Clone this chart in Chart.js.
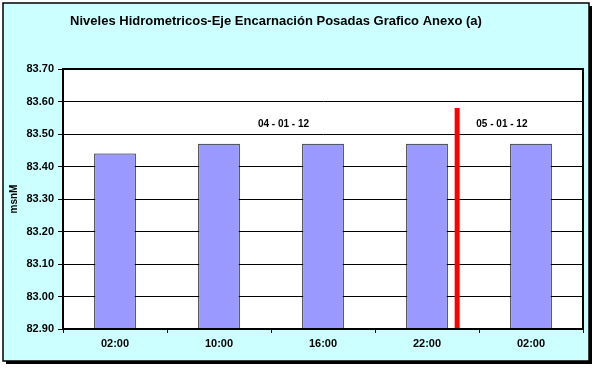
<!DOCTYPE html>
<html>
<head>
<meta charset="utf-8">
<script src="https://cdn.jsdelivr.net/npm/chart.js@4"></script>
<style>
  html, body { margin: 0; padding: 0; background: #ffffff; }
  #wrap { width: 595px; height: 368px; }
</style>
</head>
<body>
<div id="wrap"><canvas id="chart" width="595" height="368"></canvas></div>
<script>
const categories = ['02:00', '10:00', '16:00', '22:00', '02:00'];
const levels = [83.44, 83.47, 83.47, 83.47, 83.47];
const yTicks = [82.90, 83.00, 83.10, 83.20, 83.30, 83.40, 83.50, 83.60, 83.70];
const dayBreak = [{ x: 3.29, y: 82.90 }, { x: 3.29, y: 83.58 }];
const dayLabels = [
  { x: 1.62, y: 83.53, text: '04 - 01 - 12' },
  { x: 3.72, y: 83.53, text: '05 - 01 - 12' }
];
const titleText = 'Niveles Hidrometricos-Eje Encarnación Posadas Grafico Anexo (a)';

const FONT = "'Liberation Sans', Arial, sans-serif";

const framePlugin = {
  id: 'frame',
  beforeDraw(chart) {
    const c = chart.ctx;
    const a = chart.chartArea;
    c.save();
    c.fillStyle = '#ffffff';
    c.fillRect(0, 0, chart.width, chart.height);
    // shadow + outer frame
    c.fillStyle = '#000000';
    c.fillRect(6, 6, 586, 358);
    c.fillStyle = '#ccffff';
    c.fillRect(3, 3, 586, 358);
    c.strokeStyle = '#000000';
    c.lineWidth = 1.5;
    c.strokeRect(3, 3, 586, 358);
    // plot area
    c.fillStyle = '#ffffff';
    c.fillRect(a.left, a.top, a.right - a.left, a.bottom - a.top);
    c.restore();
  },
  afterDraw(chart) {
    const c = chart.ctx;
    const a = chart.chartArea;
    const xs = chart.scales.x2;
    const ys = chart.scales.y;
    c.save();
    c.strokeStyle = '#000000';
    c.lineWidth = 2;
    c.strokeRect(a.left, a.top, a.right - a.left, a.bottom - a.top);
    c.fillStyle = '#000000';
    c.font = 'bold 13px ' + FONT;
    c.textAlign = 'center';
    c.textBaseline = 'middle';
    c.fillText(titleText, 276, 21);
    c.font = 'bold 10px ' + FONT;
    dayLabels.forEach(d => {
      c.fillText(d.text, xs.getPixelForValue(d.x), ys.getPixelForValue(d.y));
    });
    c.restore();
  }
};

new Chart(document.getElementById('chart').getContext('2d'), {
  type: 'bar',
  data: {
    labels: categories,
    datasets: [{
      data: levels,
      backgroundColor: '#9999ff',
      borderColor: '#000000',
      borderWidth: 1,
      barPercentage: 0.4,
      categoryPercentage: 1,
      grouped: false,
      order: 1
    }, {
      type: 'line',
      data: dayBreak,
      xAxisID: 'x2',
      borderColor: '#ff0000',
      borderWidth: 5,
      pointRadius: 0,
      order: 0
    }]
  },
  options: {
    responsive: false,
    animation: false,
    layout: { padding: { top: 69, right: 12, left: 0, bottom: 0 } },
    plugins: {
      legend: { display: false },
      tooltip: { enabled: false },
      title: { display: false }
    },
    scales: {
      x: {
        offset: true,
        grid: { display: true, drawOnChartArea: false, drawTicks: true, tickLength: 4, color: '#000000', offset: true },
        border: { color: '#000000', width: 2 },
        ticks: { color: '#000000', padding: 4, font: { size: 11, weight: 'bold', family: FONT } },
        afterFit(scale) { scale.height = 39; }
      },
      x2: {
        type: 'linear',
        display: false,
        offset: false,
        grid: { offset: false },
        min: -0.5,
        max: 4.5
      },
      y: {
        min: 82.90,
        max: 83.70,
        afterBuildTicks(scale) { scale.ticks = yTicks.map(v => ({ value: v })); },
        grid: { color: '#000000', lineWidth: 1, tickLength: 5 },
        border: { color: '#000000', width: 2 },
        ticks: {
          color: '#000000',
          padding: 4,
          font: { size: 11, weight: 'bold', family: FONT },
          callback: v => Number(v).toFixed(2)
        },
        title: {
          display: true,
          text: 'msnM',
          color: '#000000',
          padding: { top: 8, bottom: 0 },
          font: { size: 10, weight: 'bold', family: FONT }
        },
        afterFit(scale) { scale.width = 63; }
      }
    }
  },
  plugins: [framePlugin]
});
</script>
</body>
</html>
